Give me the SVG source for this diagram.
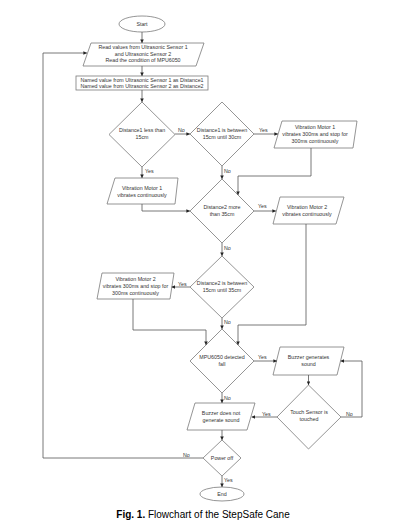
<svg xmlns="http://www.w3.org/2000/svg" width="409" height="529" viewBox="0 0 409 529">
<defs>
<style>
.sh{fill:#fff;stroke:#7a7a7a;stroke-width:0.8}
.ln{fill:none;stroke:#555;stroke-width:0.8}
.t{font-family:"Liberation Sans",Arial,sans-serif;font-size:5.3px;fill:#333;text-anchor:middle}
.lb{font-family:"Liberation Sans",Arial,sans-serif;font-size:5.3px;fill:#333}
.cap{font-family:"Liberation Sans",Arial,sans-serif;font-size:10px;fill:#000;text-anchor:middle}
</style>
<marker id="ar" viewBox="0 0 6 6" refX="6" refY="3" markerWidth="3.6" markerHeight="3.6" markerUnits="userSpaceOnUse" orient="auto">
<path d="M0,0 L6,3 L0,6 z" fill="#222"/>
</marker>
</defs>
<rect width="409" height="529" fill="#fff"/>

<g id="start"><ellipse class="sh" cx="142" cy="24" rx="23" ry="8"/><text class="t" x="142" y="26">Start</text></g>

<g id="read"><polygon class="sh" points="91,43 204,43 196,66 83,66"/>
<text class="t" x="143" y="49">Read values from Ultrasonic Sensor 1</text>
<text class="t" x="143" y="55.5">and Ultrasonic Sensor 2</text>
<text class="t" x="143" y="62">Read the condition of MPU6050</text></g>

<g id="named"><rect class="sh" x="76" y="76" width="132" height="14"/>
<text class="t" x="142" y="82">Named value from Ultrasonic Sensor 1 as Distance1</text>
<text class="t" x="142" y="88">Named value from Ultrasonic Sensor 2 as Distance2</text></g>

<g id="d1"><polygon class="sh" points="142,102 175,134.5 142,167 109,134.5"/>
<text class="t" x="142" y="132">Distance1 less than</text>
<text class="t" x="142" y="139">15cm</text></g>

<g id="d2"><polygon class="sh" points="222,102 254,134 222,166 190,134"/>
<text class="t" x="222" y="132">Distance1 is between</text>
<text class="t" x="222" y="139">15cm until 30cm</text></g>

<g id="vm1b"><polygon class="sh" points="282,121 357,121 353,148 274,148"/>
<text class="t" x="315" y="129">Vibration Motor 1</text>
<text class="t" x="315" y="136">vibrates 300ms and stop for</text>
<text class="t" x="315" y="143">300ms continuously</text></g>

<g id="vm1c"><polygon class="sh" points="115,178 178,178 175,204 107,204"/>
<text class="t" x="142" y="190">Vibration Motor 1</text>
<text class="t" x="142" y="197">vibrates continuously</text></g>

<g id="d3"><polygon class="sh" points="222,179 254,211 222,243 190,211"/>
<text class="t" x="222" y="209">Distance2 more</text>
<text class="t" x="222" y="216">than 35cm</text></g>

<g id="vm2c"><polygon class="sh" points="280,197 344,197 336,224 273,224"/>
<text class="t" x="307" y="209">Vibration Motor 2</text>
<text class="t" x="307" y="216">vibrates continuously</text></g>

<g id="d4"><polygon class="sh" points="222,256 254,287 222,318 190,287"/>
<text class="t" x="222" y="285">Distance2 is between</text>
<text class="t" x="222" y="292">15cm until 35cm</text></g>

<g id="vm2b"><polygon class="sh" points="102,273 174,273 170,299 97,299"/>
<text class="t" x="135.5" y="281">Vibration Motor 2</text>
<text class="t" x="135.5" y="288">vibrates 300ms and stop for</text>
<text class="t" x="135.5" y="295">300ms continuously</text></g>

<g id="d5"><polygon class="sh" points="222,329 254,361 222,393 190,361"/>
<text class="t" x="222" y="359">MPU6050 detected</text>
<text class="t" x="222" y="366">fall</text></g>

<g id="buzz"><polygon class="sh" points="280,347 344,347 337,375 273,375"/>
<text class="t" x="308.5" y="359">Buzzer generates</text>
<text class="t" x="308.5" y="366">sound</text></g>

<g id="d6"><polygon class="sh" points="308.5,385 341,417 308.5,449 277,417"/>
<text class="t" x="309" y="414">Touch Sensor is</text>
<text class="t" x="309" y="421">touched</text></g>

<g id="nobuzz"><polygon class="sh" points="195,403 255,403 247,430 187,430"/>
<text class="t" x="221" y="415">Buzzer does not</text>
<text class="t" x="221" y="422">generate sound</text></g>

<g id="power"><polygon class="sh" points="222,440 241,458 222,476 203,458"/>
<text class="t" x="222" y="460">Power off</text></g>

<g id="end"><ellipse class="sh" cx="222" cy="494" rx="22" ry="7"/><text class="t" x="222" y="496">End</text></g>

<g id="connectors">
<path class="ln" d="M142,32 V43" marker-end="url(#ar)"/>
<path class="ln" d="M142,66 V76" marker-end="url(#ar)"/>
<path class="ln" d="M142,90 V102" marker-end="url(#ar)"/>
<path class="ln" d="M175,134 H190" marker-end="url(#ar)"/>
<path class="ln" d="M254,134 H278" marker-end="url(#ar)"/>
<path class="ln" d="M142,167 V178" marker-end="url(#ar)"/>
<path class="ln" d="M222,166 V179" marker-end="url(#ar)"/>
<path class="ln" d="M311,148 V176 H238 V195" marker-end="url(#ar)"/>
<path class="ln" d="M142,204 V211 H190" marker-end="url(#ar)"/>
<path class="ln" d="M254,211 H276" marker-end="url(#ar)"/>
<path class="ln" d="M222,243 V256" marker-end="url(#ar)"/>
<path class="ln" d="M306,224 V325 H238 V345" marker-end="url(#ar)"/>
<path class="ln" d="M190,287 H171.5" marker-end="url(#ar)"/>
<path class="ln" d="M222,318 V329" marker-end="url(#ar)"/>
<path class="ln" d="M133,299 V330 H206 V345" marker-end="url(#ar)"/>
<path class="ln" d="M254,361 H277" marker-end="url(#ar)"/>
<path class="ln" d="M308.5,375 V385" marker-end="url(#ar)"/>
<path class="ln" d="M341,417 H362 V361 H340.5" marker-end="url(#ar)"/>
<path class="ln" d="M277,417 H251.5" marker-end="url(#ar)"/>
<path class="ln" d="M222,393 V403" marker-end="url(#ar)"/>
<path class="ln" d="M222,430 V440" marker-end="url(#ar)"/>
<path class="ln" d="M203,458 H43 V53 H87" marker-end="url(#ar)"/>
<path class="ln" d="M222,476 V487" marker-end="url(#ar)"/>
<text class="lb" x="178" y="132">No</text>
<text class="lb" x="259" y="132">Yes</text>
<text class="lb" x="145" y="173">Yes</text>
<text class="lb" x="224" y="173">No</text>
<text class="lb" x="258" y="208">Yes</text>
<text class="lb" x="224" y="250">No</text>
<text class="lb" x="178" y="286">Yes</text>
<text class="lb" x="224" y="324">No</text>
<text class="lb" x="258" y="359">Yes</text>
<text class="lb" x="346" y="416">No</text>
<text class="lb" x="262" y="416">Yes</text>
<text class="lb" x="224" y="400">No</text>
<text class="lb" x="183" y="457">No</text>
<text class="lb" x="224" y="482">Yes</text>
</g>

<text class="cap" x="203" y="518"><tspan font-weight="bold">Fig. 1.</tspan> Flowchart of the StepSafe Cane</text>
</svg>
